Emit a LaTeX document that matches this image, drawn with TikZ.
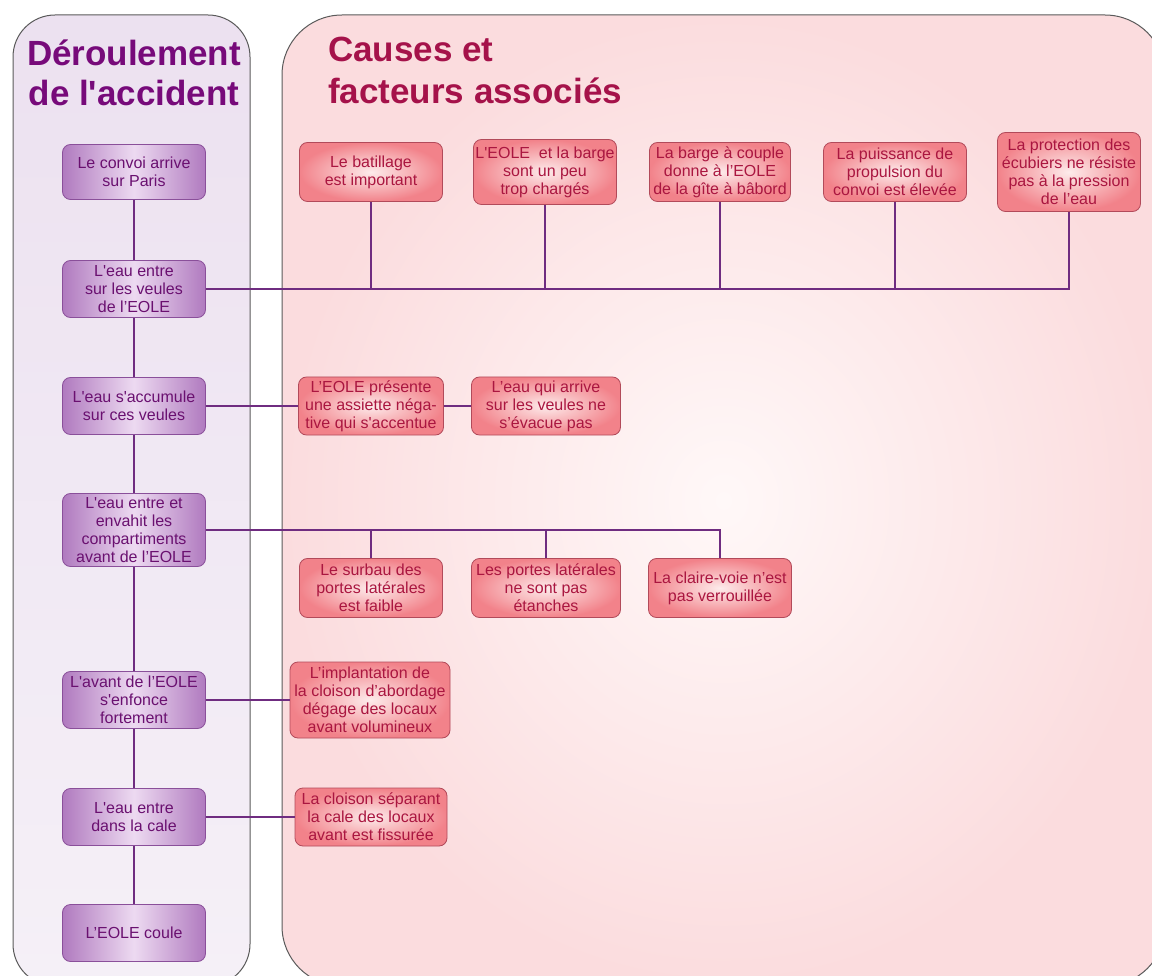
\documentclass[tikz,border=0pt]{standalone}
\usepackage{fontspec}
\newfontfamily\arialfont{Liberation Sans}
\usetikzlibrary{calc}

\definecolor{fondviolet}{HTML}{ECE1F0}
\definecolor{fondvioletbas}{HTML}{F5F0F7}
\definecolor{fondrose}{HTML}{FBDCDE}
\definecolor{fondrosecentre}{HTML}{FFF8F8}
\definecolor{bordgris}{HTML}{5A5A5A}
\definecolor{titreviolet}{HTML}{770A7A}
\definecolor{titrerouge}{HTML}{A5124A}
\definecolor{violetbord}{HTML}{B07ABF}
\definecolor{violetclair}{HTML}{EDDAF1}
\definecolor{traitviolet}{HTML}{8A4F9A}
\definecolor{texteviolet}{HTML}{6A1070}
\definecolor{rougebord}{HTML}{F2828A}
\definecolor{rougeclair}{HTML}{FDEBEB}
\definecolor{traitrouge}{HTML}{B24A5A}
\definecolor{texterouge}{HTML}{AA1640}
\definecolor{lien}{HTML}{6F2C80}

\begin{document}
\begin{tikzpicture}[x=1pt,y=-1pt,
    etape/.style={draw=traitviolet, line width=0.8pt, rounded corners=8pt,
        left color=violetbord, right color=violetbord, middle color=violetclair,
        text=texteviolet, align=center, inner sep=2pt,
        minimum width=143pt, minimum height=57pt,
        font=\arialfont\fontsize{16}{18}\selectfont},
    cause/.style={draw=traitrouge, line width=0.8pt, rounded corners=8pt,
        inner color=rougeclair, outer color=rougebord,
        text=texterouge, align=center, inner sep=1.5pt,
        minimum width=143pt, minimum height=59pt,
        font=\arialfont\fontsize{16}{18}\selectfont},
    liaison/.style={draw=lien, line width=1.2pt}]

    \useasboundingbox (0,0) rectangle (1152,976);
    \clip (0,0) rectangle (1152,976);

    % les deux panneaux
    \shade[draw=bordgris, line width=1pt, rounded corners=42pt,
        top color=fondviolet, bottom color=fondvioletbas] (13,15) rectangle (250,986);
    \shade[draw=bordgris, line width=1pt, rounded corners=60pt,
        inner color=fondrosecentre, outer color=fondrose] (282,15) rectangle (1165,986);

    \node[anchor=base, text=titreviolet, font=\arialfont\bfseries\fontsize{35}{40}\selectfont]
        (titreD1) at (134,66) {Déroulement};
    \node[anchor=base, text=titreviolet, font=\arialfont\bfseries\fontsize{35}{40}\selectfont]
        (titreD2) at (134,106) {de l'accident};
    \node[anchor=base west, inner sep=0pt, text=titrerouge, font=\arialfont\bfseries\fontsize{35}{40}\selectfont]
        (titreC1) at (328,62) {Causes et};
    \node[anchor=base west, inner sep=0pt, text=titrerouge, font=\arialfont\bfseries\fontsize{35}{40}\selectfont]
        (titreC2) at (328,104) {facteurs associés};

    % deroulement
    \node[etape, minimum height=55pt] (D1) at (134,172) {Le convoi arrive\\sur Paris};
    \node[etape] (D2) at (134,289) {L'eau entre\\sur les veules\\de l’EOLE};
    \node[etape] (D3) at (134,406) {L'eau s'accumule\\sur ces veules};
    \node[etape, minimum height=73pt] (D4) at (134,530) {L'eau entre et\\envahit les\\compartiments\\avant de l’EOLE};
    \node[etape] (D5) at (134,700) {L'avant de l’EOLE\\s'enfonce\\fortement};
    \node[etape] (D6) at (134,817) {L'eau entre\\dans la cale};
    \node[etape] (D7) at (134,933) {L’EOLE coule};

    % causes
    \node[cause] (A) at (371,172) {Le batillage\\est important};
    \node[cause, minimum height=65pt] (B) at (545,172) {L'EOLE\ \ et la barge\\sont un peu\\trop chargés};
    \node[cause, minimum width=141pt] (C) at (720,172) {La barge à couple\\donne à l’EOLE\\de la gîte à bâbord};
    \node[cause] (E) at (895,172) {La puissance de\\propulsion du\\convoi est élevée};
    \node[cause, minimum height=79pt] (G) at (1069,172) {La protection des\\écubiers ne résiste\\pas à la pression\\de l’eau};

    \node[cause, minimum width=145pt, minimum height=58pt] (F) at (371,406) {L’EOLE présente\\une assiette néga-\\tive qui s'accentue};
    \node[cause, minimum width=149pt, minimum height=58pt] (H) at (546,406) {L’eau qui arrive\\sur les veules ne\\s’évacue pas};

    \node[cause] (K) at (371,588) {Le surbau des\\portes latérales\\est faible};
    \node[cause, minimum width=149pt] (L) at (546,588) {Les portes latérales\\ne sont pas\\étanches};
    \node[cause] (N) at (720,588) {La claire-voie n’est\\pas verrouillée};

    \node[cause, minimum width=160pt, minimum height=76pt] (P) at (370,700) {L’implantation de\\la cloison d’abordage\\dégage des locaux\\avant volumineux};
    \node[cause, minimum width=152pt, minimum height=58pt] (Q) at (371,817) {La cloison séparant\\la cale des locaux\\avant est fissurée};

    % liaisons
    \draw[liaison] (D1) -- (D2) -- (D3) -- (D4) -- (D5) -- (D6) -- (D7);
    \draw[liaison] (D2.east) -| (G.south);
    \foreach \c in {A,B,C,E}
        \draw[liaison] (\c.south) -- (\c.south |- D2.east);
    \draw[liaison] (D3.east) -- (F.west);
    \draw[liaison] (F.east) -- (H.west);
    \draw[liaison] (D4.east) -| (N.north);
    \foreach \c in {K,L}
        \draw[liaison] (\c.north) -- (\c.north |- D4.east);
    \draw[liaison] (D5.east) -- (P.west);
    \draw[liaison] (D6.east) -- (Q.west);
\end{tikzpicture}
\end{document}
